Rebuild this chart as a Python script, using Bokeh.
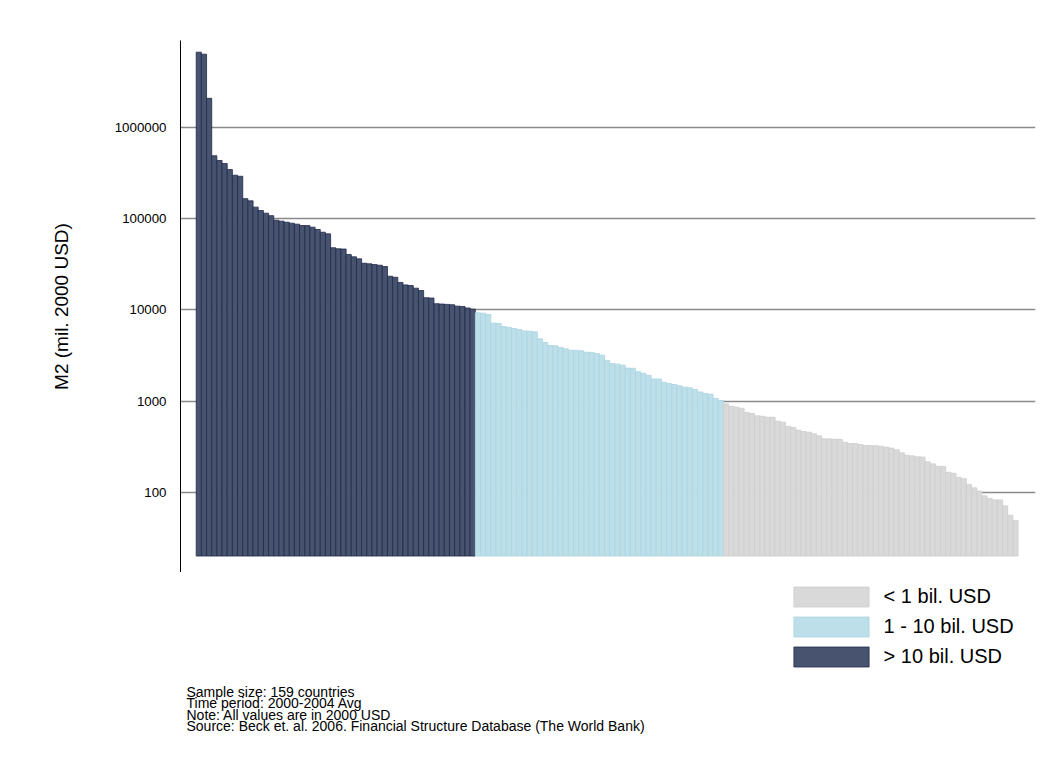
from bokeh.plotting import figure
from bokeh.layouts import column
from bokeh.models import (ColumnDataSource, Range1d, FixedTicker, NumeralTickFormatter,
                          Legend, LegendItem, Label)
from bokeh.embed import file_html
from bokeh.resources import INLINE

# ---- data (M2, mil. 2000 USD), sorted descending ----
above_10bil = [6700000, 6370000, 2090000, 490000, 435000, 403000, 346000, 300000, 292000, 166000,
               157000, 134000, 123000, 115000, 108000, 96300, 94000, 91600, 89300, 87100,
               84200, 84000, 80700, 76200, 71100, 68200, 48000, 46800, 46500, 40500,
               38200, 36300, 32500, 32000, 31400, 30900, 29900, 23400, 22800, 20000,
               18800, 18500, 17300, 16300, 13600, 13500, 11700, 11600, 11500, 11400,
               11000, 10900, 10500, 10200]
between_1_10bil = [9290, 9200, 8920, 7150, 7100, 6570, 6450, 6250, 6090, 5890,
                   5850, 5750, 4820, 4390, 4070, 4050, 3870, 3740, 3610, 3600,
                   3560, 3430, 3420, 3330, 3190, 2790, 2580, 2540, 2480, 2300,
                   2290, 2100, 2020, 1920, 1750, 1745, 1610, 1560, 1520, 1470,
                   1420, 1400, 1340, 1260, 1210, 1190, 1070, 1015]
below_1bil = [933, 879, 857, 836, 750, 731, 690, 683, 666, 665,
              602, 587, 527, 514, 480, 464, 456, 438, 416, 386,
              385, 382, 381, 354, 343, 342, 334, 326, 325, 324,
              320, 313, 305, 293, 271, 255, 251, 245, 244, 216,
              205, 193, 192, 166, 162, 146, 141, 122, 112, 103,
              91.5, 85.6, 82.6, 82.5, 71, 56, 49]
legend_labels = ["< 1 bil. USD", "1 - 10 bil. USD", "> 10 bil. USD"]
y_ticks = [100, 1000, 10000, 100000, 1000000]
notes = ["Sample size: 159 countries",
         "Time period: 2000-2004 Avg",
         "Note: All values are in 2000 USD",
         "Source: Beck et. al. 2006. Financial Structure Database (The World Bank)"]
y_label = "M2 (mil. 2000 USD)"

FONT = "Liberation Sans"
DARK = dict(fill_color="#48546f", line_color="#1e2a4a", line_width=0.8)
LIGHT = dict(fill_color="#bcdfea", line_color="#acd4e1", line_width=0.8)
GRAY = dict(fill_color="#d9d9d9", line_color="#cecece", line_width=0.8)

n1, n2, n3 = len(above_10bil), len(between_1_10bil), len(below_1bil)
N = n1 + n2 + n3

# ---------------- main chart ----------------
p = figure(width=1043, height=572, output_backend="svg", toolbar_location=None,
           y_axis_type="log", x_axis_location=None,
           x_range=Range1d(-3.54, 161.87), y_range=Range1d(13.2, 9.0e6),
           min_border_left=180, min_border_top=40, min_border_right=8, min_border_bottom=0)
p.outline_line_color = None
p.background_fill_color = "white"
p.border_fill_color = "white"
p.xgrid.visible = False
p.ygrid.grid_line_color = "#8a8a8a"
p.ygrid.grid_line_width = 1.6

ax = p.yaxis[0]
ax.ticker = FixedTicker(ticks=y_ticks, minor_ticks=[])
ax.formatter = NumeralTickFormatter(format="0")
ax.major_tick_line_color = None
ax.minor_tick_line_color = None
ax.major_label_standoff = 8
ax.major_label_text_font = FONT
ax.major_label_text_font_size = "13.3px"
ax.major_label_text_color = "black"
ax.axis_line_color = "black"
ax.axis_line_width = 1
ax.axis_label = y_label
ax.axis_label_text_font = FONT
ax.axis_label_text_font_size = "19px"
ax.axis_label_text_font_style = "normal"
ax.axis_label_text_color = "black"
ax.axis_label_standoff = 40

base = 20
src_dark = ColumnDataSource(dict(x=list(range(0, n1)), top=above_10bil))
src_light = ColumnDataSource(dict(x=list(range(n1, n1 + n2)), top=between_1_10bil))
src_gray = ColumnDataSource(dict(x=list(range(n1 + n2, N)), top=below_1bil))

p.vbar(x="x", top="top", bottom=base, width=1, source=src_dark, **DARK)
p.vbar(x="x", top="top", bottom=base, width=1, source=src_light, **LIGHT)
p.vbar(x="x", top="top", bottom=base, width=1, source=src_gray, **GRAY)

# ---------------- legend + notes panel (frame aligned with main frame) ----------------
q = figure(width=1043, height=190, output_backend="svg", toolbar_location=None,
           x_axis_location=None, y_axis_location=None,
           x_range=Range1d(0, 1), y_range=Range1d(0, 1),
           min_border_left=180, min_border_top=0, min_border_right=8, min_border_bottom=0)
q.outline_line_color = None
q.grid.visible = False
q.background_fill_color = "white"
q.border_fill_color = "white"

# legend-only proxies (NaN data: nothing is drawn, only the legend swatch)
nan = float("nan")
proxy = dict(x=[nan], top=[nan])
lg_gray = q.vbar(x="x", top="top", bottom=0, width=1, source=ColumnDataSource(proxy), **GRAY)
lg_light = q.vbar(x="x", top="top", bottom=0, width=1, source=ColumnDataSource(proxy), **LIGHT)
lg_dark = q.vbar(x="x", top="top", bottom=0, width=1, source=ColumnDataSource(proxy), **DARK)

legend = Legend(items=[LegendItem(label=legend_labels[0], renderers=[lg_gray]),
                       LegendItem(label=legend_labels[1], renderers=[lg_light]),
                       LegendItem(label=legend_labels[2], renderers=[lg_dark])],
                location=(603.6, 93.5), orientation="vertical",
                glyph_width=94, glyph_height=25, label_height=25, spacing=5,
                padding=0, margin=0, label_standoff=6,
                border_line_color=None, background_fill_alpha=0,
                label_text_font=FONT, label_text_font_size="20px", label_text_color="black")
q.add_layout(legend, "center")

baselines = [70.5, 59.2, 47.9, 36.6]
for txt, yb in zip(notes, baselines):
    q.add_layout(Label(x=6, y=yb, x_units="screen", y_units="screen", text=txt,
                       text_font=FONT, text_font_size="14px", text_color="black",
                       text_baseline="alphabetic", text_align="left"))

layout = column(p, q, spacing=0)
open("out.html", "w").write(file_html(layout, INLINE))
